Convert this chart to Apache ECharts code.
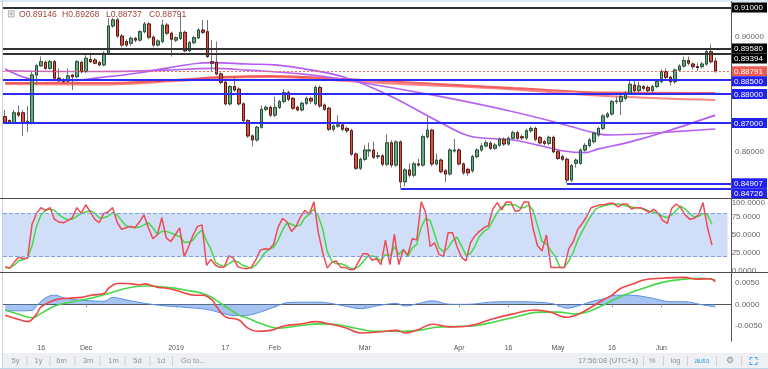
<!DOCTYPE html>
<html><head><meta charset="utf-8">
<script src="https://cdn.jsdelivr.net/npm/echarts@6/dist/echarts.min.js"></script>
<style>html,body{margin:0;padding:0;background:#fff}#c{width:768px;height:369px}</style>
</head><body><div id="c"></div>
<script>
// ---- DATA ----
// [open, high, low, close]
const candles = [
[.8722,.8745,.8700,.8704],[.8708,.8712,.8698,.8701],[.8699,.8745,.8695,.8735],[.8735,.8760,.8720,.8727],[.8735,.8745,.8655,.8701],
[.8700,.8759,.8668,.8706],[.8701,.8876,.8695,.8866],[.8866,.8905,.8831,.8898],[.8898,.8930,.8895,.8912],[.8910,.8916,.8885,.8889],
[.8889,.8918,.8885,.8912],[.8912,.8918,.8850,.8855],[.8855,.8889,.8842,.8846],[.8849,.8855,.8838,.8843],[.8845,.8889,.8840,.8863],
[.8866,.8870,.8814,.8860],[.8860,.8918,.8855,.8912],[.8910,.8916,.8872,.8878],[.8878,.8934,.8874,.8924],[.8920,.8943,.8908,.8912],
[.8918,.8925,.8903,.8907],[.8909,.8915,.8896,.8901],[.8901,.8948,.8896,.8941],[.8941,.9063,.8938,.9036],[.9036,.9064,.9030,.9057],
[.9057,.9064,.8995,.9001],[.9001,.9008,.8962,.8970],[.8982,.8990,.8963,.8970],[.8976,.9000,.8968,.8993],[.8993,.8998,.8980,.8987],
[.8987,.9022,.8982,.9016],[.9016,.9050,.9010,.9043],[.9043,.9050,.8990,.8997],[.8997,.9003,.8962,.8970],[.8970,.8990,.8965,.8984],
[.8982,.9057,.8976,.9039],[.9039,.9046,.9005,.9011],[.9011,.9016,.8930,.8990],[.8987,.9000,.8980,.8995],[.8993,.9074,.8987,.9014],
[.9014,.9020,.8945,.8950],[.8950,.8984,.8945,.8978],[.8978,.9001,.8972,.8995],[.8995,.9028,.8990,.9022],[.9022,.9057,.9008,.9014],
[.9016,.9057,.8925,.8930],[.8912,.8987,.8880,.8907],[.8910,.8982,.8865,.8870],[.8870,.8875,.8835,.8841],[.8841,.8846,.8760,.8766],
[.8766,.8831,.8760,.8826],[.8826,.8860,.8808,.8814],[.8817,.8823,.8760,.8766],[.8766,.8771,.8701,.8708],[.8708,.8713,.8648,.8655],
[.8655,.8660,.8618,.8641],[.8641,.8690,.8635,.8685],[.8685,.8760,.8680,.8747],[.8747,.8760,.8740,.8754],[.8754,.8760,.8720,.8727],
[.8727,.8791,.8720,.8754],[.8754,.8780,.8748,.8774],[.8774,.8817,.8768,.8805],[.8805,.8812,.8775,.8782],[.8785,.8790,.8745,.8751],
[.8754,.8760,.8740,.8745],[.8745,.8774,.8740,.8768],[.8768,.8791,.8762,.8785],[.8785,.8791,.8766,.8776],[.8766,.8830,.8760,.8823],
[.8823,.8830,.8752,.8759],[.8762,.8768,.8742,.8747],[.8751,.8756,.8672,.8678],[.8678,.8695,.8670,.8689],[.8689,.8726,.8683,.8693],
[.8693,.8699,.8672,.8678],[.8681,.8687,.8665,.8673],[.8673,.8680,.8586,.8592],[.8592,.8598,.8537,.8543],[.8543,.8580,.8537,.8574],
[.8574,.8623,.8568,.8606],[.8603,.8632,.8583,.8606],[.8606,.8635,.8575,.8581],[.8583,.8600,.8575,.8586],[.8586,.8592,.8550,.8557],
[.8557,.8660,.8550,.8631],[.8631,.8640,.8545,.8554],[.8554,.8640,.8548,.8634],[.8634,.8640,.8473,.8496],[.8496,.8543,.8480,.8537],
[.8537,.8560,.8512,.8519],[.8519,.8565,.8512,.8558],[.8558,.8575,.8548,.8554],[.8554,.8660,.8548,.8652],[.8652,.8722,.8645,.8675],
[.8675,.8680,.8550,.8558],[.8558,.8594,.8552,.8571],[.8571,.8577,.8525,.8531],[.8534,.8540,.8495,.8523],[.8523,.8612,.8517,.8606],
[.8603,.8644,.8597,.8606],[.8606,.8612,.8552,.8558],[.8558,.8563,.8520,.8527],[.8539,.8545,.8517,.8527],[.8534,.8590,.8527,.8583],
[.8583,.8612,.8577,.8606],[.8606,.8630,.8600,.8620],[.8620,.8640,.8615,.8631],[.8629,.8636,.8606,.8612],[.8612,.8630,.8606,.8623],
[.8623,.8650,.8617,.8643],[.8643,.8650,.8620,.8627],[.8627,.8653,.8621,.8647],[.8647,.8673,.8641,.8666],[.8666,.8673,.8641,.8647],
[.8652,.8660,.8641,.8648],[.8648,.8680,.8641,.8673],[.8673,.8688,.8666,.8681],[.8681,.8687,.8636,.8643],[.8650,.8655,.8625,.8631],
[.8635,.8641,.8622,.8629],[.8629,.8656,.8622,.8650],[.8650,.8656,.8595,.8600],[.8600,.8606,.8571,.8577],[.8583,.8590,.8568,.8574],
[.8574,.8580,.8491,.8502],[.8502,.8558,.8495,.8552],[.8560,.8577,.8545,.8571],[.8560,.8612,.8554,.8606],[.8606,.8630,.8600,.8622],
[.8622,.8648,.8615,.8641],[.8635,.8670,.8629,.8664],[.8658,.8687,.8652,.8681],[.8681,.8730,.8675,.8724],[.8722,.8738,.8716,.8731],
[.8731,.8780,.8725,.8774],[.8774,.8791,.8766,.8776],[.8774,.8797,.8727,.8791],[.8785,.8810,.8779,.8803],[.8803,.8850,.8797,.8834],
[.8831,.8848,.8806,.8812],[.8812,.8843,.8806,.8828],[.8826,.8832,.8812,.8820],[.8823,.8830,.8806,.8812],[.8812,.8832,.8806,.8826],
[.8826,.8850,.8820,.8843],[.8843,.8885,.8837,.8878],[.8878,.8889,.8852,.8858],[.8858,.8864,.8830,.8843],[.8843,.8889,.8836,.8883],
[.8883,.8903,.8877,.8897],[.8897,.8930,.8891,.8916],[.8916,.8930,.8900,.8907],[.8904,.8910,.8885,.8895],[.8895,.8907,.8880,.8892],
[.8895,.8912,.8889,.8904],[.8904,.8955,.8898,.8947],[.8947,.8972,.8906,.8912],[.89146,.89268,.88737,.88791]
];
const stochK = [6,4,12,19,17,18,65,80,88,84, 88,72,68,67,70,74,88,80,92,82, 72,67,80,82,88,68,58,60,62,60,
 68,78,60,45,50,74,46,41,50,60, 20,34,50,62,64,8,16,8,5,6, 21,18,6,4,3,5,15,29,31,30,
 37,61,73,68,55,62,75,84,79,96, 53,25,4,12,14,5,5,2,2,13, 24,24,15,17,9,43,9,51,9,30,
 22,45,43,96,81,34,39,23,20,53, 53,34,19,14,39,49,55,60,63,86, 95,85,96,96,83,84,96,96,59,35,
 28,50,5,5,5,5,31,41,58,66, 76,88,90,92,92,94,94,89,93,93, 86,88,88,85,81,86,80,70,66,87,
 93,88,78,72,73,78,95,60,36];
const stochD = [5,4,8,14,16,18,35,62,78,84, 86,84,78,74,71,72,76,80,82,84, 80,74,74,76,81,78,70,63,61,60,
 61,64,67,60,51,55,55,53,50,48, 40,40,43,52,57,42,30,12,8,6, 10,14,13,8,6,4,8,16,25,30,
 33,43,57,67,65,62,64,74,79,86, 76,58,27,14,10,10,8,4,3,6, 13,20,21,19,14,23,20,34,23,30,
 20,32,37,61,73,70,51,32,27,32, 42,47,35,22,24,34,48,55,59,70, 81,89,92,92,92,88,88,92,84,63,
 41,38,28,20,5,5,14,26,43,55, 67,77,86,89,91,92,93,93,92,90, 89,88,87,86,83,82,79,76,74,78,
 84,90,86,80,75,76,80,78,65];
// [bar index, value]
const macdLine = [[0,-0.0025],[3,-0.0035],[5,-0.0040],[7,-0.0022],[8,-0.0006],[11,0.0010],[14,0.0014],[17,0.0016],[19,0.0021],[22,0.0025],[23,0.0037],[25,0.0048],[27,0.0048],[30,0.0045],[31,0.0047],[34,0.0039],[36,0.0037],[39,0.0029],[42,0.0021],[44,0.0021],[46,0.0010],[47,-0.0005],[49,-0.0029],[52,-0.0036],[54,-0.0055],[56,-0.0062],[59,-0.0060],[62,-0.0050],[66,-0.0045],[69,-0.0040],[72,-0.0045],[76,-0.0055],[79,-0.0066],[83,-0.0064],[87,-0.0060],[89,-0.0066],[92,-0.0058],[95,-0.0046],[99,-0.0052],[103,-0.0050],[108,-0.0035],[113,-0.0022],[118,-0.0013],[121,-0.0017],[125,-0.0030],[127,-0.0025],[129,-0.0015],[131,-0.0003],[133,0.0010],[135,0.0021],[137,0.0037],[140,0.0048],[142,0.0056],[146,0.0060],[151,0.0062],[154,0.0058],[157,0.0059],[158,0.0052]];
const signalLine = [[0,-0.0013],[3,-0.0023],[6,-0.0031],[8,-0.0021],[11,-0.0004],[15,0.0006],[19,0.0014],[23,0.0025],[27,0.0037],[31,0.0042],[36,0.0039],[40,0.0033],[45,0.0021],[49,-0.0005],[52,-0.0025],[54,-0.0032],[57,-0.0045],[61,-0.0055],[65,-0.0050],[70,-0.0045],[74,-0.0047],[78,-0.0055],[82,-0.0062],[88,-0.0062],[92,-0.0060],[96,-0.0053],[100,-0.0051],[104,-0.0050],[109,-0.0040],[114,-0.0028],[119,-0.0018],[123,-0.0018],[127,-0.0022],[130,-0.0016],[133,-0.0002],[137,0.0018],[142,0.0037],[146,0.0050],[151,0.0058],[155,0.0060],[158,0.0056]];
const macdHist = [[0,-0.0015],[3,-0.0015],[6,-0.0014],[7,-0.0003],[9,0.0015],[11,0.0021],[13,0.0015],[16,0.0010],[19,0.0008],[22,0.0007],[24,0.0016],[26,0.0012],[29,0.0006],[34,-0.0002],[40,-0.0007],[45,-0.0012],[48,-0.0020],[51,-0.0026],[54,-0.0025],[57,-0.0017],[60,-0.0006],[63,0.0004],[66,0.0005],[70,0.0005],[73,0.0001],[76,-0.0005],[79,-0.0010],[83,-0.0003],[87,0.0002],[89,-0.0004],[92,0.0002],[95,0.0008],[99,0.0000],[103,0.0000],[108,0.0005],[113,0.0006],[118,0.0005],[122,0.0001],[125,-0.0009],[128,-0.0002],[131,0.0008],[133,0.0012],[136,0.0021],[139,0.0021],[144,0.0014],[148,0.0006],[151,0.0006],[155,-0.0001],[158,-0.0006]];
const maPurpleFast = [[0,0.8887],[7,0.8849],[15,0.8847],[21,0.8857],[30,0.8874],[43,0.8907],[46,0.8909],[54,0.8904],[60,0.8901],[66,0.8889],[76,0.8856],[86,0.8791],[97,0.8700],[104,0.8652],[113,0.8641],[129,0.8597],[132,0.8610],[138,0.8630],[146,0.8665],[158,0.8727]];
const maPurpleSlow = [[0,0.8881],[21,0.8878],[36,0.8883],[46,0.8889],[54,0.8883],[66,0.8870],[76,0.8849],[97,0.8791],[113,0.8739],[123,0.8700],[132,0.8662],[135,0.8658],[146,0.8667],[158,0.8679]];
const maRedA = [[0,0.8838],[21,0.8838],[38,0.8849],[48,0.8859],[59,0.8863],[76,0.8852],[88,0.8842],[113,0.8821],[135,0.8805],[158,0.8804]];
const maRedB = [[0,0.8835],[21,0.8833],[38,0.8845],[48,0.8856],[59,0.8859],[76,0.8845],[88,0.8835],[113,0.8816],[135,0.8792],[158,0.8779]];
const blackLevels = [0.91, 0.8958, 0.89394];
const blueLevels = [0.885, 0.88, 0.87];
const blueLowLevels = [[88, 0.84726], [125, 0.84907]];
const lastPrice = 0.88791;
const headerOHLC = [['O','0.89146'],['H','0.89268'],['L','0.88737'],['C','0.88791']];
const timeTicks = [[8,'16'],[18,'Dec'],[38,'2019'],[49,'17'],[60,'Feb'],[80,'Mar'],[101,'Apr'],[112,'16'],[123,'May'],[135,'16'],[146,'Jun']];
const priceTickLabels = [0.90, 0.86];
const macdTickLabels = [-0.005, 0, 0.005];
const rangeButtons = ['5y','1y','6m','3m','1m','5d','1d','Go to...'];
const NBARS = 162;

// ---- CHART ----
const FONT = 'Liberation Sans, Arial, sans-serif';
const cats = Array.from({length: NBARS}, (_, i) => String(i));
const tickMap = new Map(timeTicks);
const L = 3, W = 728;
const wickData = candles.map(([o,h,l,c]) => [o,c,l,h]);
const bodyData = candles.map(([o,h,l,c]) => [o,c,Math.min(o,c),Math.max(o,c)]);

const chart = echarts.init(document.getElementById('c'), null, {renderer:'canvas'});
const lineS = (data, color, width, xi, yi, z) => ({type:'line', data, xAxisIndex:xi, yAxisIndex:yi, smooth:0.4, showSymbol:false, symbol:'none', z:z||2, lineStyle:{color, width}, silent:true});

const markData = [];
blackLevels.forEach(v => markData.push({yAxis:v, lineStyle:{color:'#333', width:2, type:'solid'}}));
blueLevels.forEach(v => markData.push({yAxis:v, lineStyle:{color:'#2b2bf5', width:2, type:'solid'}}));
markData.push({yAxis:lastPrice, lineStyle:{color:'#ee6a62', width:1, type:[2,2]}});
blueLowLevels.forEach(([i,v]) => markData.push([{coord:[i,v], lineStyle:{color:'#2b2bf5', width:2, type:'solid'}},{coord:[NBARS-0.5,v]}]));

chart.setOption({
  animation:false,
  textStyle:{fontFamily:FONT},
  grid:[
    {left:L, width:W, top:1.73, height:196.2},
    {left:L, width:W, top:199, height:72},
    {left:L, width:W, top:273.05, height:68.14}
  ],
  xAxis:[
    {type:'category', gridIndex:0, data:cats, show:false},
    {type:'value', gridIndex:0, min:-0.5, max:NBARS-0.5, show:false},
    {type:'category', gridIndex:1, data:cats, show:false},
    {type:'category', gridIndex:2, data:cats,
      axisLine:{show:true, lineStyle:{color:'#555', width:1}},
      axisTick:{show:true, alignWithLabel:true, length:3, interval:(i)=>tickMap.has(i), lineStyle:{color:'#999'}},
      axisLabel:{interval:(i)=>tickMap.has(i), formatter:(v,i)=>tickMap.get(i)||'', fontSize:7, color:'#555', margin:3}},
    {type:'value', gridIndex:2, min:-0.5, max:NBARS-0.5, show:false}
  ],
  yAxis:[
    {type:'value', gridIndex:0, position:'right', min:0.844, max:0.912, interval:0.002, scale:true,
      axisLine:{show:false}, axisTick:{show:false}, splitLine:{show:false},
      axisLabel:{margin:4, fontSize:8, color:'#666',
        formatter:(v)=> priceTickLabels.some(t=>Math.abs(t-v)<1e-6) ? v.toFixed(5) : ''}},
    {type:'value', gridIndex:1, position:'right', min:0, max:100, interval:25,
      axisLine:{show:false}, axisTick:{show:false}, splitLine:{show:false},
      axisLabel:{margin:4, fontSize:8, color:'#666', formatter:(v)=> v===100 ? '{a|100.0000}' : v.toFixed(4),
        rich:{a:{padding:[8,0,0,0], fontSize:8, color:'#666', fontFamily:FONT}}}},
    {type:'value', gridIndex:2, position:'right', min:-0.0085, max:0.0072, interval:0.0005,
      axisLine:{show:false}, axisTick:{show:false}, splitLine:{show:false},
      axisLabel:{margin:4, fontSize:8, color:'#666',
        formatter:(v)=> macdTickLabels.some(t=>Math.abs(t-v)<1e-7) ? (Math.abs(v)<1e-9?0:v).toFixed(4) : ''}}
  ],
  series:[
    lineS(maRedB, 'rgba(250,110,110,0.85)', 2, 1, 0, 1),
    lineS(maRedA, 'rgba(240,70,70,0.85)', 2, 1, 0, 1),
    lineS(maPurpleSlow, '#b865f3', 1.6, 1, 0, 1),
    lineS(maPurpleFast, '#b45cf5', 1.6, 1, 0, 1),
    {type:'candlestick', xAxisIndex:0, yAxisIndex:0, data:wickData, barWidth:3, z:3, silent:true,
      itemStyle:{color:'rgba(0,0,0,0)', color0:'rgba(0,0,0,0)', borderColor:'#737375', borderColor0:'#737375', borderWidth:1}},
    {type:'candlestick', xAxisIndex:0, yAxisIndex:0, data:bodyData, barWidth:3, z:4, silent:true,
      itemStyle:{color:'#6ba583', color0:'#d75442', borderColor:'#225437', borderColor0:'#5b1a13', borderWidth:1}},
    {type:'line', xAxisIndex:1, yAxisIndex:0, data:[[0,0.91]], showSymbol:false, symbol:'none', lineStyle:{width:0}, z:5, silent:true,
      markLine:{symbol:'none', silent:true, animation:false, precision:6, label:{show:false}, data:markData}},
    {type:'line', xAxisIndex:2, yAxisIndex:1, data:stochD, showSymbol:false, symbol:'none', z:3, lineStyle:{color:'#46d846', width:1.5},
      markArea:{silent:true, itemStyle:{color:'rgba(100,150,230,0.3)'}, data:[[{yAxis:20},{yAxis:80}]]},
      markLine:{symbol:'none', silent:true, precision:4, label:{show:false}, lineStyle:{color:'#7d9fe6', type:'dashed', width:1}, data:[{yAxis:80},{yAxis:20}]}},
    {type:'line', xAxisIndex:2, yAxisIndex:1, data:stochK, showSymbol:false, symbol:'none', z:4, lineStyle:{color:'#ef4a55', width:1.5}},
    {type:'line', xAxisIndex:4, yAxisIndex:2, data:macdHist, smooth:0.4, showSymbol:false, symbol:'none', z:2,
      lineStyle:{color:'#5a8fe3', width:1}, areaStyle:{color:'rgba(85,140,230,0.75)'}},
    lineS(signalLine, '#46d846', 1.6, 4, 2, 3),
    lineS(macdLine, '#ef4545', 1.6, 4, 2, 4)
  ]
});

// ---- overlays ----
const g = [];
const yPx = v => chart.convertToPixel({yAxisIndex:0}, v);
const ln = (x1,y1,x2,y2,stroke,w) => g.push({type:'line', z:100, silent:true, shape:{x1,y1,x2,y2}, style:{stroke, lineWidth:w||1}});
const tx = (text,x,y,fill,size,align,extra) => g.push(Object.assign({type:'text', z:102, silent:true, style:{text, x, y, fill, font:(size||8)+'px '+FONT, align:align||'left', verticalAlign:'middle'}}, extra||{}));

// frame & separators
ln(0,1,768,1,'#bcd6ea',1);
ln(2.5,0,2.5,369,'#bcd6ea',1);
ln(0,198.5,768,198.5,'#4a4a4a',1);
ln(0,272.5,768,272.5,'#4a4a4a',1);
ln(731.5,1,731.5,341.5,'#555',1);

// price boxes
const boxes = [];
blackLevels.forEach(v => boxes.push([v,'#000']));
blueLevels.forEach(v => boxes.push([v,'#2020f0']));
boxes.push([lastPrice,'#ef5b52']);
blueLowLevels.forEach(([i,v]) => boxes.push([v,'#2020f0']));
boxes.sort((a,b)=>b[0]-a[0]);
let prevY = -100;
boxes.forEach(([v,col]) => {
  let y = Math.max(yPx(v), prevY + 10);
  prevY = y;
  g.push({type:'rect', z:101, silent:true, shape:{x:732, y:y-5, width:35, height:10}, style:{fill:col}});
  tx(v.toFixed(5), 734, y+0.5, '#fff', 8);
});

// header legend
tx('\u229E', 7, 14, '#999', 10);
const hx = [19, 62, 106, 149];
headerOHLC.forEach(([k,v],i) => tx(k+v, hx[i], 14.5, '#a0463c', 8.6));

// bottom toolbar
g.push({type:'rect', z:99, silent:true, shape:{x:3, y:353, width:765, height:15}, style:{fill:'#eef0f3'}});
ln(0,368.5,768,368.5,'#bcd6ea',1);
const bx = [15.5, 38.5, 61.5, 88, 113.5, 137.5, 161, 181];
const sepL = [27, 50, 75, 100, 125, 150, 172.5];
rangeButtons.forEach((t,i) => tx(t, bx[i], 361, '#8d949b', 7.5, i===7?'left':'center'));
sepL.forEach(x => ln(x,356,x,366,'#cfd3d8',1));
tx('17:56:08 (UTC+1)', 608, 361, '#8d949b', 7.5, 'center');
tx('%', 652, 361, '#8d949b', 7.5, 'center');
tx('log', 675.5, 361, '#8d949b', 7.5, 'center');
tx('auto', 702, 361, '#3aa0e0', 7.5, 'center');
tx('\u2699', 729.5, 361, '#8d949b', 9, 'center');
[643.5, 663.5, 687.5, 716.5, 741.5].forEach(x => ln(x,356,x,366,'#cfd3d8',1));
// expand icon
const ex = 750, ey = 357.5, es = 7, ec = '#3aa0e0';
ln(ex,ey,ex+2.5,ey,ec); ln(ex,ey,ex,ey+2.5,ec);
ln(ex+es,ey,ex+es-2.5,ey,ec); ln(ex+es,ey,ex+es,ey+2.5,ec);
ln(ex,ey+es,ex+2.5,ey+es,ec); ln(ex,ey+es,ex,ey+es-2.5,ec);
ln(ex+es,ey+es,ex+es-2.5,ey+es,ec); ln(ex+es,ey+es,ex+es,ey+es-2.5,ec);

chart.setOption({graphic:{elements:g}});
</script></body></html>
